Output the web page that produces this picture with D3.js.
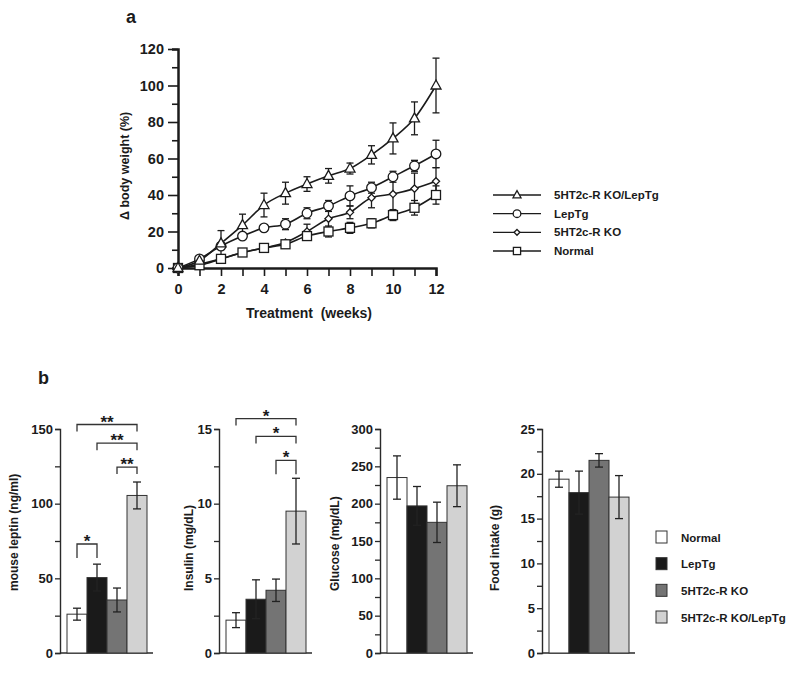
<!DOCTYPE html>
<html><head><meta charset="utf-8">
<script src="https://cdn.jsdelivr.net/npm/d3@7"></script>
<style>
body{margin:0;background:#fff;}
svg{display:block;font-family:"Liberation Sans",Arial,Helvetica,sans-serif;font-weight:bold;}
</style></head>
<body>
<svg id="c" width="800" height="674"></svg>
<script>
// ---------- Panel a data ----------
const weeks = [0,1,2,3,4,5,6,7,8,9,10,11,12];
const seriesNames = ["5HT2c-R KO/LepTg","LepTg","5HT2c-R KO","Normal"];
const seriesMarkers = ["triangle","circle","diamond","square"];
const koLep    = [0,4,13.5,23.5,34.5,41,46,50.5,54.5,62,71,82,100];
const koLepErr = [0,0,7,6,6.5,6,4,4,3,5,8.5,9,15];
const lep      = [0,5,12,17.5,22,24,30,34,39.5,44,50,56,62.5];
const lepErr   = [0,0,0,0,0,3,3,3,5.5,3,3,3,7.5];
const ko       = [0,2,5,8.5,11,14,20,27,30.5,38.5,40.5,43.5,47.5];
const koErr    = [0,0,0,0,0,0,4,5,3.5,5.5,9,8.5,7.5];
const normal   = [0,1.5,5,8.5,11,13,17.5,20,22,24.5,29,33,40];
const normalErr= [0,0,0,0,0,0,0,3,3,2.5,3,4,5];
const yTicksA = [0,20,40,60,80,100,120];
const xTicksA = [0,2,4,6,8,10,12];

// ---------- Panel b data ----------
const groups = ["Normal","LepTg","5HT2c-R KO","5HT2c-R KO/LepTg"];
const groupColors = ["#ffffff","#1a1a1a","#747474","#d2d2d2"];
const leptin = [26,50.5,35.5,105.5];
const leptinErr = [4,9,8,9];
const insulin = [2.2,3.6,4.2,9.5];
const insulinErr = [0.5,1.3,0.75,2.2];
const glucose = [235,197,175,224];
const glucoseErr = [29,26,27,28];
const food = [19.4,17.9,21.5,17.4];
const foodErr = [0.9,2.4,0.75,2.4];
const leptinTicks = [0,50,100,150];
const insulinTicks = [0,5,10,15];
const glucoseTicks = [0,50,100,150,200,250,300];
const foodTicks = [0,5,10,15,20,25];
const leptinSig = [{a:0,b:1,y:73,label:"*"},{a:0,b:3,y:153,label:"**"},{a:1,b:3,y:140.5,label:"**"},{a:2,b:3,y:124.5,label:"**"}];
const insulinSig = [{a:0,b:3,y:15.7,label:"*"},{a:1,b:3,y:14.5,label:"*"},{a:2,b:3,y:12.9,label:"*"}];

const svg = d3.select("#c");
const ink = "#1b1b1b";

// ================= Panel a =================
svg.append("text").attr("x",126).attr("y",23).attr("font-size",18).attr("fill",ink).text("a");
const xA = d3.scaleLinear().domain([0,12]).range([178,436]);
const yA = d3.scaleLinear().domain([0,120]).range([268,49]);
const gA = svg.append("g");

// y axis
const yAxA = d3.axisLeft(yA).tickValues(d3.range(0,121,10)).tickSize(6)
  .tickFormat(d => yTicksA.includes(d) ? d : "");
const gy = gA.append("g").attr("transform",`translate(${xA(0)},0)`).call(yAxA);
gy.select(".domain").attr("stroke",ink).attr("stroke-width",2.5);
gy.selectAll(".tick line").attr("stroke",ink).attr("stroke-width",1.6)
  .attr("x2",d => yTicksA.includes(d) ? -10 : -6);
gy.selectAll(".tick text").attr("x",-14).attr("font-size",14.5).attr("font-family","Liberation Sans, Arial").attr("font-weight","bold").attr("fill",ink);
// x axis
const xAxA = d3.axisBottom(xA).tickValues(weeks).tickSize(8)
  .tickFormat(d => xTicksA.includes(d) ? d : "");
const gx = gA.append("g").attr("transform",`translate(0,${yA(0)})`).call(xAxA);
gx.select(".domain").attr("stroke",ink).attr("stroke-width",2.5);
gx.selectAll(".tick line").attr("stroke",ink).attr("stroke-width",1.6);
gx.selectAll(".tick text").attr("y",16).attr("font-size",14.5).attr("font-family","Liberation Sans, Arial").attr("font-weight","bold").attr("fill",ink);
gA.append("text").attr("x",(xA(0)+xA(12))/2+2).attr("y",318).attr("text-anchor","middle")
  .attr("font-size",14).attr("fill",ink).style("white-space","pre").text("Treatment  (weeks)");
gA.append("text").attr("transform","translate(129,220) rotate(-90)").attr("font-size",12.5)
  .attr("fill",ink).text("Δ body weight (%)");

const seriesVals = [koLep, lep, ko, normal];
const seriesErrs = [koLepErr, lepErr, koErr, normalErr];
const line = d3.line().x((d,i)=>xA(weeks[i])).y(d=>yA(d)).curve(d3.curveMonotoneX);

function marker(g, type, x, y, k=1){
  let m;
  if(type==="triangle"){
    m = g.append("path").attr("d",`M${x},${y-5.5*k}L${x+5*k},${y+3.5*k}L${x-5*k},${y+3.5*k}Z`);
  } else if(type==="circle"){
    m = g.append("circle").attr("cx",x).attr("cy",y).attr("r",4.8*k);
  } else if(type==="diamond"){
    m = g.append("path").attr("d",`M${x},${y-3.6*k}L${x+3.6*k},${y}L${x},${y+3.6*k}L${x-3.6*k},${y}Z`);
  } else {
    m = g.append("rect").attr("x",x-4.5*k).attr("y",y-4.5*k).attr("width",9*k).attr("height",9*k);
  }
  m.attr("fill","#fff").attr("stroke",ink).attr("stroke-width",1.3);
}

const gl = gA.append("g");
seriesVals.forEach(v => gl.append("path").datum(v).attr("d",line).attr("fill","none")
  .attr("stroke",ink).attr("stroke-width",1.6));
const ge = gA.append("g").attr("stroke",ink).attr("stroke-width",1.3);
seriesVals.forEach((v,si) => {
  v.forEach((val,i) => {
    const e = seriesErrs[si][i];
    if(!e) return;
    const x = xA(weeks[i]);
    ge.append("line").attr("x1",x).attr("x2",x).attr("y1",yA(val+e)).attr("y2",yA(val-e));
    ge.append("line").attr("x1",x-3.5).attr("x2",x+3.5).attr("y1",yA(val+e)).attr("y2",yA(val+e));
    ge.append("line").attr("x1",x-3.5).attr("x2",x+3.5).attr("y1",yA(val-e)).attr("y2",yA(val-e));
  });
});
const gm = gA.append("g");
// squares drawn over diamonds where they coincide
[2,3,1,0].forEach(si => seriesVals[si].forEach((val,i) => marker(gm, seriesMarkers[si], xA(weeks[i]), yA(val))));

// legend a
const legA = svg.append("g");
const legRows = d3.scaleLinear().domain([0,3]).range([195,251]);
seriesNames.forEach((n,i) => {
  const y = legRows(i);
  legA.append("line").attr("x1",493).attr("x2",541).attr("y1",y).attr("y2",y).attr("stroke",ink).attr("stroke-width",1.3);
  marker(legA, seriesMarkers[i], 517, y, 0.8);
  legA.append("text").attr("x",554).attr("y",y+4).attr("font-size",11.5).attr("fill",ink).text(n);
});

// ================= Panel b =================
svg.append("text").attr("x",38).attr("y",384).attr("font-size",18).attr("fill",ink).text("b");
const yTopB = 429, yBotB = 653;
const panels = [
  {x0:60,  vals:leptin,  errs:leptinErr,  max:150, major:leptinTicks,  step:25,  label:"mouse leptin (ng/ml)", lx:14, sig:leptinSig},
  {x0:219, vals:insulin, errs:insulinErr, max:15,  major:insulinTicks, step:2.5, label:"Insulin (mg/dL)",      lx:189, sig:insulinSig},
  {x0:380, vals:glucose, errs:glucoseErr, max:300, major:glucoseTicks, step:25,  label:"Glucose (mg/dL)",      lx:335, sig:[]},
  {x0:542, vals:food,    errs:foodErr,    max:25,  major:foodTicks,    step:2.5, label:"Food intake (g)",      lx:495, sig:[]}
];
const axisInk = "#2a2a2a";
panels.forEach(p => {
  const g = svg.append("g");
  const y = d3.scaleLinear().domain([0,p.max]).range([yBotB,yTopB]);
  const x = d3.scaleBand().domain(d3.range(groups.length)).range([p.x0+7,p.x0+87]).padding(0);
  const allTicks = d3.range(0,p.max+1e-9,p.step).map(v=>+v.toFixed(2));
  const ax = d3.axisLeft(y).tickValues(allTicks).tickSize(5)
    .tickFormat(d => p.major.includes(d) ? d : "");
  const ga = g.append("g").attr("transform",`translate(${p.x0},0)`).call(ax);
  ga.select(".domain").attr("stroke",axisInk).attr("stroke-width",1.4);
  ga.selectAll(".tick line").attr("stroke",axisInk).attr("stroke-width",1.3);
  ga.selectAll(".tick text").attr("x",-7).attr("font-size",13).attr("font-family","Liberation Sans, Arial").attr("font-weight","bold").attr("fill",ink);
  g.append("line").attr("x1",p.x0).attr("x2",p.x0+93).attr("y1",yBotB).attr("y2",yBotB)
    .attr("stroke",axisInk).attr("stroke-width",1.4);
  g.append("text").attr("transform",`translate(${p.lx+4},591) rotate(-90)`).attr("font-size",12)
    .attr("fill",ink).text(p.label);
  // bars
  p.vals.forEach((v,i) => {
    g.append("rect").attr("x",x(i)).attr("y",y(v)).attr("width",x.bandwidth()).attr("height",y(0)-y(v))
      .attr("fill",groupColors[i]).attr("stroke","#333").attr("stroke-width",1);
  });
  // error bars
  p.vals.forEach((v,i) => {
    const cx = x(i)+x.bandwidth()/2, e = p.errs[i];
    const ge2 = g.append("g").attr("stroke","#222").attr("stroke-width",1.3);
    ge2.append("line").attr("x1",cx).attr("x2",cx).attr("y1",y(v+e)).attr("y2",y(v-e));
    ge2.append("line").attr("x1",cx-4).attr("x2",cx+4).attr("y1",y(v+e)).attr("y2",y(v+e));
    ge2.append("line").attr("x1",cx-4).attr("x2",cx+4).attr("y1",y(v-e)).attr("y2",y(v-e));
  });
  // significance brackets
  p.sig.forEach(s => {
    const xa = x(s.a)+x.bandwidth()/2, xb = x(s.b)+x.bandwidth()/2, yy = y(s.y);
    const drop = s.label==="*" && s.b-s.a===1 ? 14 : 7;
    g.append("path").attr("d",`M${xa},${yy+drop}V${yy}H${xb}V${yy+drop}`)
      .attr("fill","none").attr("stroke","#333").attr("stroke-width",1.3);
    g.append("text").attr("x",(xa+xb)/2).attr("y",yy+3).attr("text-anchor","middle")
      .attr("font-size",17).attr("fill",ink).text(s.label);
  });
});

// legend b
const legB = svg.append("g");
const legBRows = d3.scaleLinear().domain([0,3]).range([537,617]);
groups.forEach((n,i) => {
  const yy = legBRows(i);
  legB.append("rect").attr("x",656).attr("y",yy-6).attr("width",11).attr("height",12)
    .attr("fill",groupColors[i]).attr("stroke","#333").attr("stroke-width",1);
  legB.append("text").attr("x",681).attr("y",yy+4.5).attr("font-size",11.5).attr("fill",ink).text(n);
});
</script>
</body></html>
